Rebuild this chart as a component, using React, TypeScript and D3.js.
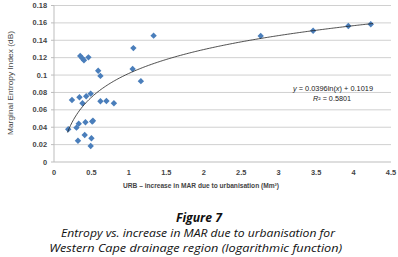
import React from "react";
import * as d3 from "d3";

const urbX = [0.19, 0.24, 0.30, 0.32, 0.33, 0.34, 0.35, 0.38, 0.40, 0.38, 0.43, 0.42, 0.41, 0.46, 0.49, 0.50, 0.49, 0.52, 0.51, 0.59, 0.62, 0.62, 0.70, 0.80, 1.06, 1.05, 1.16, 1.33, 2.76, 3.46, 3.93, 4.23];
const entropyY = [0.0376, 0.0713, 0.0395, 0.0245, 0.044, 0.0744, 0.122, 0.119, 0.117, 0.0675, 0.0756, 0.0457, 0.031, 0.1204, 0.0786, 0.0273, 0.0184, 0.0475, 0.0465, 0.105, 0.099, 0.0698, 0.0702, 0.0675, 0.131, 0.107, 0.093, 0.1453, 0.145, 0.151, 0.1564, 0.1584];
const xTicks = [0, 0.5, 1, 1.5, 2, 2.5, 3, 3.5, 4, 4.5];
const yTicks = [0, 0.02, 0.04, 0.06, 0.08, 0.1, 0.12, 0.14, 0.16, 0.18];
const fitA = 0.0396;
const fitB = 0.1019;
const fitRange = [0.18, 4.26];

export default function App() {
  const W = 398, H = 257;
  const x = d3.scaleLinear().domain([0, 4.5]).range([54, 391]);
  const y = d3.scaleLinear().domain([0, 0.18]).range([162, 5.5]);
  const fitPts = d3.range(0, 201).map((i) => {
    const xv = fitRange[0] + (fitRange[1] - fitRange[0]) * (i / 200);
    return [xv, fitA * Math.log(xv) + fitB] as [number, number];
  });
  const line = d3.line<[number, number]>().x((d) => x(d[0])).y((d) => y(d[1]));
  const diamond = d3.symbol().type(d3.symbolDiamond2).size(26)();
  const tickFont = "'Liberation Sans', Arial, sans-serif";
  const capFont = "'Open Sans', 'Noto Sans', sans-serif";
  return (
    <svg width={W} height={H} style={{ position: "absolute", left: 0, top: 0, background: "#fff" }}>
      <rect x={0} y={0} width={W} height={H} fill="#fff" />
      {yTicks.filter((t) => t > 0).map((t) => (
        <line key={t} x1={x(0)} x2={x(4.5)} y1={y(t)} y2={y(t)} stroke="#d0d0d0" strokeWidth={1} />
      ))}
      <line x1={x(0)} x2={x(0)} y1={y(0.18)} y2={y(0)} stroke="#bdbdbd" strokeWidth={1} />
      <line x1={x(0)} x2={x(4.5)} y1={y(0)} y2={y(0)} stroke="#bdbdbd" strokeWidth={1} />
      {yTicks.map((t) => (
        <line key={"tk" + t} x1={x(0) - 3} x2={x(0)} y1={y(t)} y2={y(t)} stroke="#bdbdbd" strokeWidth={1} />
      ))}
      {yTicks.map((t) => (
        <text key={"yl" + t} x={47} y={y(t)} dy="0.35em" textAnchor="end" fontFamily={tickFont} fontSize={7.4} fontWeight="bold" fill="#444">
          {d3.format("")(+t.toFixed(2))}
        </text>
      ))}
      {xTicks.map((t) => (
        <text key={"xl" + t} x={x(t)} y={172} dy="0.35em" textAnchor="middle" fontFamily={tickFont} fontSize={7.4} fontWeight="bold" fill="#444">
          {t}
        </text>
      ))}
      <text x={201} y={185} dy="0.35em" textAnchor="middle" fontFamily={tickFont} fontSize={7.6} fontWeight="bold" fill="#444" textLength={156} lengthAdjust="spacingAndGlyphs">
        URB – increase in MAR due to urbanisation (Mm³)
      </text>
      <text transform={`translate(10,83) rotate(-90)`} dy="0.35em" textAnchor="middle" fontFamily={tickFont} fontSize={7.5} fill="#444" textLength={104} lengthAdjust="spacingAndGlyphs">
        Marginal Entropy Index (dB)
      </text>
      {urbX.map((xv, i) => (
        <path key={"p" + i} d={diamond} transform={`translate(${x(xv)},${y(entropyY[i])})`} fill="#4a7ebb" />
      ))}
      <path d={line(fitPts) || ""} fill="none" stroke="#222" strokeWidth={0.8} />
      <text x={333} y={89} dy="0.35em" textAnchor="middle" fontFamily={tickFont} fontSize={6.5} fill="#222" textLength={80} lengthAdjust="spacingAndGlyphs">
        <tspan fontStyle="italic">y</tspan> = 0.0396ln(<tspan fontStyle="italic">x</tspan>) + 0.1019
      </text>
      <text x={332} y={98.5} dy="0.35em" textAnchor="middle" fontFamily={tickFont} fontSize={6.5} fill="#222" textLength={38} lengthAdjust="spacingAndGlyphs">
        <tspan fontStyle="italic">R</tspan>² = 0.5801
      </text>
      <text x={199} y={217.5} dy="0.35em" textAnchor="middle" fontFamily={capFont} fontSize={12} fontWeight="bold" fontStyle="italic" fill="#111" textLength={46} lengthAdjust="spacingAndGlyphs">
        Figure 7
      </text>
      <text x={198} y={233} dy="0.35em" textAnchor="middle" fontFamily={capFont} fontSize={11.5} fontStyle="italic" fill="#111" textLength={274} lengthAdjust="spacingAndGlyphs">
        Entropy vs. increase in MAR due to urbanisation for
      </text>
      <text x={195.7} y={248} dy="0.35em" textAnchor="middle" fontFamily={capFont} fontSize={11.5} fontStyle="italic" fill="#111" textLength={293} lengthAdjust="spacingAndGlyphs">
        Western Cape drainage region (logarithmic function)
      </text>
    </svg>
  );
}
